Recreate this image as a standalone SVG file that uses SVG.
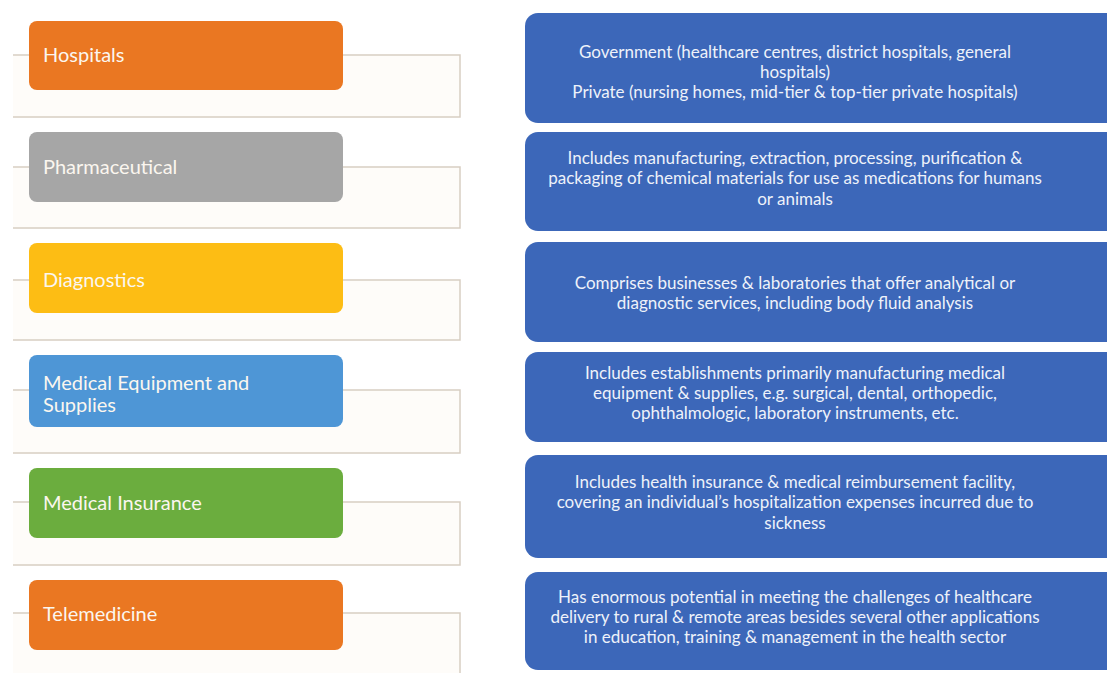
<svg xmlns="http://www.w3.org/2000/svg" width="1107" height="673" viewBox="0 0 1107 673">
<style>
.frame{fill:#fefcf9;stroke:#d8cec2;stroke-width:1.5}
.cat{font-family:Lato,"Liberation Sans",sans-serif;font-size:20px;fill:#fbf6ef}
.desc{fill:#3c67b9}
.dt{font-family:Lato,"Liberation Sans",sans-serif;font-size:17px;fill:#eef2fa;text-anchor:middle}
</style>
<rect width="1107" height="673" fill="#ffffff"/>
<g id="connectors">
<path class="frame" d="M13 55 H460 V117 H13"/>
<path class="frame" d="M13 167 H460 V228 H13"/>
<path class="frame" d="M13 280 H460 V340 H13"/>
<path class="frame" d="M13 390 H460 V453 H13"/>
<path class="frame" d="M13 502 H460 V565 H13"/>
<path class="frame" d="M13 613 H460 V690 H13"/>
</g>
<g id="hospitals">
<rect x="29" y="21" width="314" height="69" rx="8" fill="#ea7722"/>
<text class="cat" x="43" y="62">Hospitals</text>
</g>
<g id="pharmaceutical">
<rect x="29" y="132" width="314" height="70" rx="8" fill="#a6a6a6"/>
<text class="cat" x="43" y="174">Pharmaceutical</text>
</g>
<g id="diagnostics">
<rect x="29" y="243" width="314" height="70" rx="8" fill="#fdbd14"/>
<text class="cat" x="43" y="287" fill="#fdf3d2">Diagnostics</text>
</g>
<g id="medical-equipment">
<rect x="29" y="355" width="314" height="72" rx="8" fill="#4e96d6"/>
<text class="cat" x="43" y="390">Medical Equipment and</text>
<text class="cat" x="43" y="412">Supplies</text>
</g>
<g id="medical-insurance">
<rect x="29" y="468" width="314" height="70" rx="8" fill="#6bad3e"/>
<text class="cat" x="43" y="510">Medical Insurance</text>
</g>
<g id="telemedicine">
<rect x="29" y="580" width="314" height="70" rx="8" fill="#ea7722"/>
<text class="cat" x="43" y="621">Telemedicine</text>
</g>
<g id="desc-hospitals">
<rect class="desc" x="525" y="13" width="600" height="110" rx="13"/>
<text class="dt" x="795" y="58">Government (healthcare centres, district hospitals, general</text>
<text class="dt" x="795" y="78">hospitals)</text>
<text class="dt" x="795" y="98">Private (nursing homes, mid-tier &amp; top-tier private hospitals)</text>
</g>
<g id="desc-pharmaceutical">
<rect class="desc" x="525" y="132" width="600" height="99" rx="13"/>
<text class="dt" x="795" y="164">Includes manufacturing, extraction, processing, purification &amp;</text>
<text class="dt" x="795" y="184">packaging of chemical materials for use as medications for humans</text>
<text class="dt" x="795" y="205">or animals</text>
</g>
<g id="desc-diagnostics">
<rect class="desc" x="525" y="242" width="600" height="100" rx="13"/>
<text class="dt" x="795" y="289">Comprises businesses &amp; laboratories that offer analytical or</text>
<text class="dt" x="795" y="309">diagnostic services, including body fluid analysis</text>
</g>
<g id="desc-medical-equipment">
<rect class="desc" x="525" y="352" width="600" height="90" rx="13"/>
<text class="dt" x="795" y="379">Includes establishments primarily manufacturing medical</text>
<text class="dt" x="795" y="399">equipment &amp; supplies, e.g. surgical, dental, orthopedic,</text>
<text class="dt" x="795" y="419">ophthalmologic, laboratory instruments, etc.</text>
</g>
<g id="desc-medical-insurance">
<rect class="desc" x="525" y="455" width="600" height="103" rx="13"/>
<text class="dt" x="795" y="488">Includes health insurance &amp; medical reimbursement facility,</text>
<text class="dt" x="795" y="508">covering an individual’s hospitalization expenses incurred due to</text>
<text class="dt" x="795" y="529">sickness</text>
</g>
<g id="desc-telemedicine">
<rect class="desc" x="525" y="572" width="600" height="98" rx="13"/>
<text class="dt" x="795" y="603">Has enormous potential in meeting the challenges of healthcare</text>
<text class="dt" x="795" y="623">delivery to rural &amp; remote areas besides several other applications</text>
<text class="dt" x="795" y="643">in education, training &amp; management in the health sector</text>
</g>
</svg>
